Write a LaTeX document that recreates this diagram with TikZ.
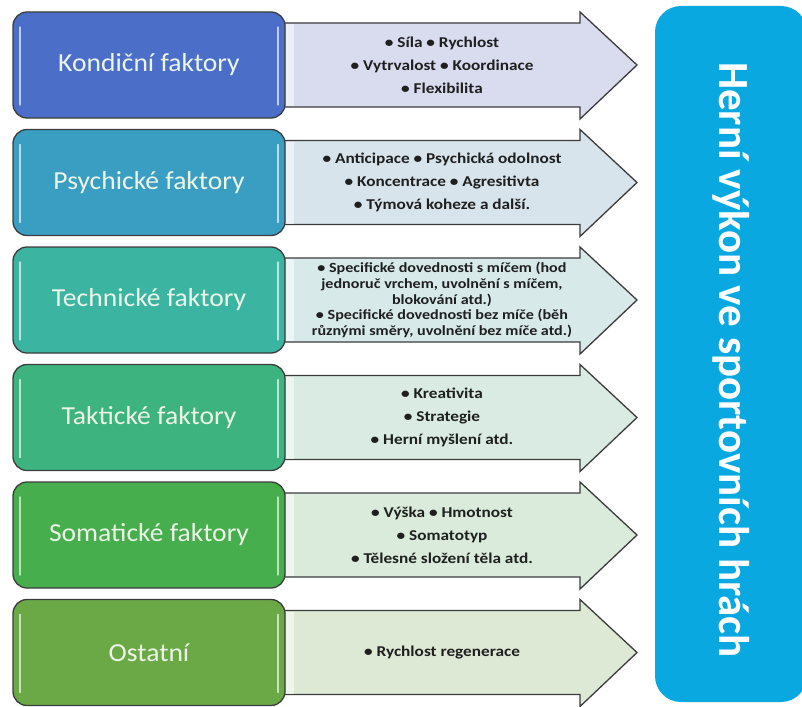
\documentclass[tikz,border=0pt]{standalone}
\usepackage{fontspec}
\setmainfont{Carlito}
\newfontfamily\labfont[FakeStretch=1.06]{Carlito}
\newfontfamily\itemfont[FakeStretch=1.15]{Carlito}
\definecolor{b1}{HTML}{4B6FC9}
\definecolor{b2}{HTML}{3A9EC2}
\definecolor{b3}{HTML}{3BB5A2}
\definecolor{b4}{HTML}{3DB37F}
\definecolor{b5}{HTML}{46AE4C}
\definecolor{b6}{HTML}{6BA946}
\definecolor{a1}{HTML}{D9DCEF}
\definecolor{a2}{HTML}{D8E4EC}
\definecolor{a3}{HTML}{D7E9E9}
\definecolor{a4}{HTML}{D9EBE2}
\definecolor{a5}{HTML}{DAEBDB}
\definecolor{a6}{HTML}{DEE9D5}
\definecolor{titleblue}{HTML}{09A8E0}
\definecolor{edge}{HTML}{3C3C3C}
\definecolor{ftext}{HTML}{ECF5E8}
\begin{document}
\begin{tikzpicture}[x=1pt,y=-1pt,
  factor/.style={draw=edge, line width=1.3pt, rounded corners=14pt,
    minimum width=272pt, minimum height=106pt, inner sep=0pt,
    text=ftext, font=\labfont\fontsize{26}{29}\selectfont},
  arrowbox/.style={draw=edge, line width=1.3pt, line join=miter},
  items/.style={font=\itemfont\bfseries\fontsize{15}{23}\selectfont, align=center, text=black!88, inner sep=0pt},
  itemsmall/.style={font=\itemfont\bfseries\fontsize{14}{15.6}\selectfont, align=center, text=black!88, inner sep=0pt},
  sheen/.style={draw=white, line width=1.2pt, opacity=0.65, line cap=round},
  titlebox/.style={fill=titleblue, rounded corners=26pt, rotate=-90,
    minimum width=696pt, minimum height=152pt, inner sep=0pt},
  titletext/.style={rotate=-90, inner sep=0pt, text=white,
    font=\bfseries\fontsize{43}{47}\selectfont}
]
\useasboundingbox (0,0) rectangle (802,706);
\fill[white] (0,0) rectangle (802,706);

\foreach \i/\c/\bc/\ac/\st/\lab/\txt in {
 1/65/b1/a1/items/{Kondiční faktory}/{• Síla • Rychlost\\• Vytrvalost • Koordinace\\• Flexibilita},
 2/182.5/b2/a2/items/{Psychické faktory}/{• Anticipace • Psychická odolnost\\• Koncentrace • Agresitivta\\• Týmová koheze a další.},
 3/300/b3/a3/itemsmall/{Technické faktory}/{• Specifické dovednosti s míčem (hod\\jednoruč vrchem, uvolnění s míčem,\\blokování atd.)\\• Specifické dovednosti bez míče (běh\\různými směry, uvolnění bez míče atd.)},
 4/417.5/b4/a4/items/{Taktické faktory}/{• Kreativita\\• Strategie\\• Herní myšlení atd.},
 5/535/b5/a5/items/{Somatické faktory}/{• Výška • Hmotnost\\• Somatotyp\\• Tělesné složení těla atd.},
 6/652.5/b6/a6/items/{Ostatní}/{• Rychlost regenerace}}
{
  \begin{scope}[shift={(0,\c)}]
    \draw[arrowbox, fill=\ac] (280,-42) -- (580,-42) -- (580,-53) -- (637,0)
      -- (580,54) -- (580,42) -- (280,42) -- cycle;
    \fill[white, opacity=0.55] (286,-41) rectangle (294,41);
    \node[\st] (t\i) at (442,0) {\txt};
    \node[factor, fill=\bc] (f\i) at (149,0) {\lab};
    \draw[sheen] (20,-38) -- (20,40);
    \draw[sheen] (278,-38) -- (278,40);
  \end{scope}
}

\node[titlebox] (perf) at (731,354) {};
\node[titletext] (perft) at (731,360) {Herní výkon ve sportovních hrách};
\end{tikzpicture}
\end{document}
